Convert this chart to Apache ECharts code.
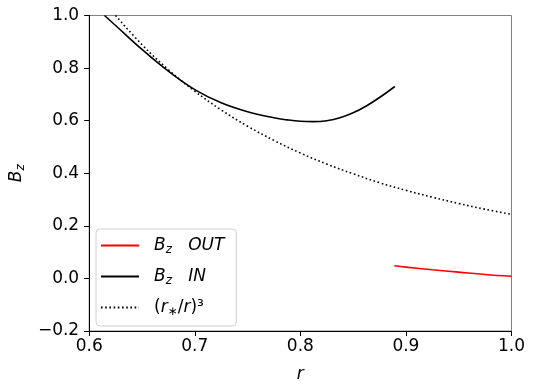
<!DOCTYPE html>
<html>
<head>
<meta charset="utf-8">
<script src="https://cdn.jsdelivr.net/npm/echarts@6/dist/echarts.min.js"></script>
<style>
  html, body { margin: 0; padding: 0; background: #fff; }
  #main { width: 534px; height: 388px; }
</style>
</head>
<body>
<div id="main"></div>
<script>
// values
var rOut = [0.889, 0.9, 0.925, 0.95, 0.975, 1.0];
var bzOut = [0.048, 0.043, 0.033, 0.024, 0.015, 0.008];

var rIn = [0.6145, 0.625, 0.65, 0.675, 0.7, 0.725, 0.75, 0.775, 0.7875, 0.8, 0.8125, 0.825, 0.8375, 0.85, 0.8625, 0.875, 0.8895];
var bzIn = [1.0, 0.962, 0.871, 0.788, 0.718, 0.668, 0.634, 0.611, 0.603, 0.5975, 0.5962, 0.600, 0.611, 0.630, 0.656, 0.688, 0.730];

var rDip = [0.625, 0.65, 0.675, 0.7, 0.725, 0.75, 0.775, 0.8, 0.825, 0.85, 0.875, 0.9, 0.925, 0.95, 0.975, 1.0];
var bzDip = [1.0, 0.889, 0.794, 0.712, 0.641, 0.579, 0.525, 0.477, 0.435, 0.398, 0.364, 0.335, 0.309, 0.285, 0.263, 0.244];

var xTicks = [0.6, 0.7, 0.8, 0.9, 1.0];
var yTicks = [-0.2, 0.0, 0.2, 0.4, 0.6, 0.8, 1.0];

function pairs(xs, ys) {
  var out = [];
  for (var i = 0; i < xs.length; i++) out.push([xs[i], ys[i]]);
  return out;
}

var font = 'DejaVu Sans';
var rich = {
  i: { fontFamily: font, fontStyle: 'italic', fontSize: 17, color: '#000' },
  s: { fontFamily: font, fontStyle: 'italic', fontSize: 12, color: '#000', padding: [9, 0, 0, 0] },
  n: { fontFamily: font, fontSize: 17, color: '#000' }
};
var legendText = {
  'OUT': '{i|B}{s|z}{n|   }{i|OUT}',
  'IN': '{i|B}{s|z}{n|   }{i|IN}',
  'dip': '{n|(}{i|r}{s|∗}{n|/}{i|r}{n|)³}'
};

var myChart = echarts.init(document.getElementById('main'));

var option = {
  animation: false,
  grid: {
    left: 86, right: 22.5, top: 15.5, bottom: 56,
    show: true, borderColor: '#808080', borderWidth: 1
  },
  legend: {
    orient: 'vertical',
    left: 96, top: 229,
    itemWidth: 38, itemHeight: 14,
    itemGap: 12,
    padding: [8, 12, 8, 4],
    backgroundColor: '#fff',
    borderColor: '#d0d0d0',
    borderWidth: 1,
    borderRadius: 4,
    data: ['OUT', 'IN', 'dip'],
    itemStyle: { opacity: 0 },
    formatter: function (name) { return legendText[name]; },
    textStyle: { rich: rich, padding: [0, 0, 0, 10] }
  },
  xAxis: {
    type: 'value',
    min: 0.6, max: 1.0, interval: 0.1,
    name: '{i|r}',
    nameLocation: 'middle',
    nameGap: 35,
    nameTextStyle: { rich: rich },
    axisLine: { onZero: false, lineStyle: { color: '#000', width: 1 } },
    axisTick: { show: true, length: 5, lineStyle: { color: '#000' } },
    axisLabel: {
      fontFamily: font, fontSize: 17, color: '#000', margin: 7,
      formatter: function (v) { return v.toFixed(1); }
    },
    splitLine: { show: false }
  },
  yAxis: {
    type: 'value',
    min: -0.2, max: 1.0, interval: 0.2,
    name: '{i|B}{s|z}',
    nameLocation: 'middle',
    nameRotate: 90,
    nameGap: 62,
    nameTextStyle: { rich: rich },
    axisLine: { onZero: false, lineStyle: { color: '#000', width: 1 } },
    axisTick: { show: true, length: 5, lineStyle: { color: '#000' } },
    axisLabel: {
      fontFamily: font, fontSize: 17, color: '#000', margin: 10,
      formatter: function (v) { return (v < 0 ? '\u2212' + (-v).toFixed(1) : v.toFixed(1)); }
    },
    splitLine: { show: false }
  },
  series: [
    {
      name: 'OUT', type: 'line', data: pairs(rOut, bzOut),
      symbol: 'none', smooth: 0.4,
      lineStyle: { color: '#ff0000', width: 1.6 },
      itemStyle: { color: '#ff0000' }
    },
    {
      name: 'IN', type: 'line', data: pairs(rIn, bzIn),
      symbol: 'none', smooth: 0.4,
      lineStyle: { color: '#000', width: 1.6 },
      itemStyle: { color: '#000' }
    },
    {
      name: 'dip', type: 'line', data: pairs(rDip, bzDip),
      symbol: 'none', smooth: 0.4,
      lineStyle: { color: '#000', width: 1.6, type: [1.6, 2.6] },
      itemStyle: { color: '#000' }
    }
  ]
};

myChart.setOption(option);
</script>
</body>
</html>
